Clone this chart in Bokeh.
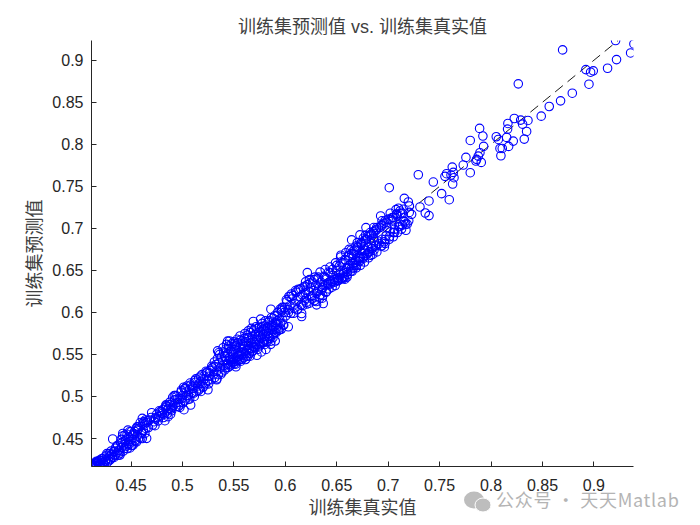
from bokeh.plotting import figure
from bokeh.models import Range1d, FixedTicker, Div
from bokeh.layouts import column
from bokeh.embed import file_html
from bokeh.resources import INLINE

x_a = [.4125,.4130,.4140,.4150,.4158,.4168,.4175,.4185,.4192,.4200,.4210,.4218,.4225,.4235,.4245,.4252,.4262,.4270,.4282,.4290,.4300,.4310,.4320,.4332,.4345,.4350,.4362,.4370,.4380,.4392,.4400,.4410,.4418,.4428,.4435,.4445,.4455,.4462,.4470,.4478,.4490,.4500,.4510,.4520,.4528,.4540,.4550,.4560,.4570,.4580,.4590,.4600,.4610,.4620,.4630,.4640]
y_a = [.4190,.4170,.4205,.4180,.4215,.4175,.4225,.4185,.4240,.4195,.4235,.4178,.4260,.4205,.4280,.4230,.4300,.4215,.4265,.4320,.4250,.4310,.4275,.4345,.4300,.4385,.4330,.4420,.4360,.4320,.4450,.4395,.4530,.4425,.4380,.4470,.4410,.4550,.4440,.4520,.4465,.4580,.4495,.4420,.4560,.4480,.4620,.4530,.4640,.4510,.4690,.4575,.4740,.4600,.4670,.4720]
x_b = [.4735,.4750,.4765,.4775,.4790,.4800,.4810,.4825,.4835,.4845,.4855,.4868,.4880,.4890,.4905,.4915,.4925,.4935,.4945,.4955,.4968,.4980,.4990,.5000,.5012,.5025,.5035,.5045,.5058,.5068,.5080,.5090,.5102,.5115,.5125,.5135,.5148,.5158,.5170,.5180,.5190,.5205,.5215,.5225,.5235,.5245,.5258,.5268,.5280,.5290]
y_b = [.4745,.4790,.4710,.4830,.4770,.4815,.4845,.4790,.4865,.4880,.4800,.4860,.4905,.4850,.4990,.4895,.4960,.4880,.5005,.4930,.4970,.4900,.5075,.4980,.5110,.4950,.5050,.5125,.5010,.5085,.5135,.5040,.5100,.5000,.5170,.5060,.5125,.5220,.5090,.5180,.5260,.5120,.5210,.5150,.5280,.5190,.5240,.5310,.5200,.5340]
x_c = [.5300,.5308,.5315,.5325,.5332,.5340,.5348,.5355,.5362,.5370,.5378,.5385,.5392,.5400,.5405,.5412,.5418,.5425,.5430,.5438,.5445,.5450,.5455,.5462,.5468,.5475,.5480,.5486,.5492,.5498,.5503,.5510,.5515,.5522,.5528,.5535,.5540,.5546,.5552,.5558,.5563,.5570,.5575,.5582,.5588,.5595,.5600,.5606,.5612,.5618,.5624,.5630,.5636,.5642,.5648,.5655,.5660,.5668,.5674,.5680,.5686,.5692,.5700,.5706,.5712,.5720,.5726,.5734,.5740,.5748,.5755,.5762,.5770,.5778,.5785,.5792,.5800,.5808,.5815,.5822,.5830,.5838,.5845,.5852,.5860,.5868,.5875,.5882,.5890,.5898,.5905,.5912,.5920,.5928,.5936,.5945,.5955,.5965,.5975,.5985]
y_c = [.5260,.5355,.5225,.5380,.5300,.5450,.5260,.5400,.5500,.5340,.5470,.5290,.5420,.5530,.5370,.5480,.5340,.5570,.5430,.5510,.5380,.5600,.5460,.5360,.5540,.5410,.5625,.5500,.5440,.5650,.5390,.5560,.5470,.5610,.5420,.5520,.5640,.5480,.5580,.5440,.5670,.5530,.5490,.5620,.5570,.5460,.5690,.5600,.5510,.5650,.5550,.5730,.5480,.5610,.5700,.5570,.5760,.5640,.5530,.5680,.5600,.5790,.5650,.5580,.5740,.5680,.5810,.5620,.5720,.5600,.5770,.5690,.5830,.5730,.5650,.5790,.5710,.5850,.5770,.5680,.5820,.5750,.5900,.5800,.5720,.5850,.5780,.5930,.5830,.5760,.5880,.5810,.5960,.5860,.5790,.5920,.5870,.6020,.5910,.5850]
x_d = [.5995,.6005,.6015,.6025,.6035,.6045,.6055,.6065,.6075,.6085,.6095,.6105,.6115,.6125,.6135,.6145,.6155,.6165,.6175,.6185,.6195,.6205,.6215,.6225,.6235,.6245,.6255,.6265,.6275,.6285,.6295,.6305,.6315,.6325,.6335,.6345,.6355,.6365,.6375,.6385,.6395,.6405,.6415,.6425,.6435,.6445,.6455,.6465,.6475,.6485,.6495,.6505,.6515,.6525,.6535,.6545,.6555,.6565,.6575,.6585,.6595,.6605,.6615,.6625,.6635,.6645,.6655,.6665,.6675,.6685,.6695,.6705,.6715,.6725,.6735,.6745,.6755,.6765,.6775,.6785,.6795,.6805,.6815,.6825,.6835,.6845,.6855,.6865,.6875,.6885]
y_d = [.6060,.5960,.6130,.6030,.6190,.6080,.5990,.6160,.6200,.6050,.6100,.6240,.6030,.6150,.6270,.6190,.6090,.6210,.6300,.6140,.6230,.6170,.6330,.6250,.6110,.6290,.6190,.6360,.6260,.6140,.6320,.6230,.6400,.6290,.6170,.6360,.6270,.6200,.6430,.6320,.6240,.6400,.6350,.6280,.6470,.6370,.6300,.6440,.6390,.6320,.6500,.6410,.6380,.6550,.6450,.6400,.6590,.6480,.6420,.6620,.6520,.6450,.6670,.6560,.6490,.6700,.6580,.6530,.6740,.6620,.6560,.6780,.6660,.6610,.6820,.6700,.6640,.6850,.6740,.6680,.6900,.6780,.6720,.6950,.6820,.6760,.6960,.6850,.6790,.6980]
x_e = [.4322,.4701,.4652,.4490,.4393,.4830,.4733,.5080,.5015,.5248,.5342,.5439,.5333,.5520,.5802,.5860,.5689,.5760,.5860,.6029,.6159,.6159,.6214,.6197,.6304,.6359,.6369,.6580,.6505,.6045,.6126,.5964]
y_e = [.4494,.4807,.4502,.4388,.4304,.4712,.4653,.4898,.4843,.5080,.5543,.5658,.5199,.5353,.5619,.5658,.5892,.5920,.6038,.5829,.5951,.5987,.6474,.6363,.6090,.6169,.6106,.6395,.6375,.6189,.6276,.6038]
x_f = [.9211,.9389,.9357,.9220,.8696,.8922,.8968,.8994,.9133,.8952,.8265,.8790,.8676,.8566,.8488,.8359,.8288,.8307,.8226,.8164,.8161,.8346,.8323,.8216,.8152,.8171,.8109,.8087,.8096,.8051,.8071,.7889,.7921,.7798,.7928,.7892,.7876,.7853,.7860,.7905,.7756,.7730,.7623,.7798,.7633,.7611,.7568,.7552,.7640,.7627,.7293,.7439,.7011,.7520,.7594,.7397,.7309,.7361,.7397,.7157,.7196,.7206,.7228,.7173,.7076,.7115,.7147,.6927,.6969,.7018,.7050,.7082,.6937,.6888,.6784,.6872,.6985,.7050,.7115,.7147,.6645,.6726,.6759,.6856,.6830,.6963,.6937,.6969,.6759,.6694,.6661,.6726,.6678]
y_f = [.9235,.9194,.9087,.9008,.9123,.8889,.8858,.8874,.8905,.8715,.8719,.8608,.8517,.8450,.8335,.8284,.8288,.8240,.8307,.8248,.8181,.8153,.8062,.8038,.8082,.7975,.7951,.7951,.7864,.8090,.8058,.8189,.8098,.8046,.7975,.7900,.7860,.7801,.7821,.7785,.7844,.7753,.7729,.7662,.7666,.7634,.7650,.7619,.7603,.7528,.7638,.7551,.7484,.7413,.7341,.7326,.7254,.7183,.7152,.7357,.7314,.7266,.7167,.6977,.7223,.7207,.7227,.7148,.7088,.7108,.7128,.7167,.7041,.7009,.7009,.6969,.7009,.6950,.7049,.7088,.6863,.6922,.6883,.6883,.6680,.6779,.6791,.6867,.6752,.6752,.6692,.6653,.6593]
x_g = [.4135,.4165,.4195,.4215,.4240,.4265,.4285,.4305,.4335,.4355,.4375,.4405,.4425,.4440,.4465,.4485,.4505,.4535,.4555,.4575,.4595,.4615,.4635,.4650,.4670,.4695,.4725,.4785,.4815,.4840,.4860,.4875,.4895,.4930,.4960,.4985,.5005,.5030,.5055,.5075,.5110,.5130,.5155,.5175,.5200,.5230,.5255,.5285]
y_g = [.4160,.4230,.4172,.4260,.4190,.4320,.4235,.4350,.4275,.4400,.4300,.4490,.4350,.4540,.4380,.4580,.4415,.4585,.4460,.4620,.4505,.4680,.4560,.4690,.4630,.4750,.4700,.4820,.4750,.4890,.4760,.4930,.4830,.5010,.4880,.5050,.4925,.5100,.4965,.5160,.5040,.5210,.5070,.5240,.5110,.5300,.5150,.5360]
x_h = [.5310,.5335,.5352,.5375,.5395,.5410,.5428,.5442,.5458,.5472,.5490,.5505,.5518,.5532,.5548,.5560,.5578,.5592,.5608,.5622,.5640,.5652,.5670,.5684,.5702,.5716,.5730,.5745,.5760,.5775,.5790,.5806,.5820,.5835,.5850,.5865,.5880,.5895,.5910,.5925,.5940,.5950,.5960,.5970,.5980,.5990]
y_h = [.5410,.5210,.5520,.5265,.5580,.5315,.5620,.5345,.5660,.5375,.5410,.5630,.5385,.5680,.5430,.5720,.5445,.5600,.5750,.5480,.5780,.5510,.5810,.5540,.5590,.5830,.5560,.5820,.5615,.5870,.5640,.5900,.5650,.5880,.5690,.5940,.5700,.5960,.5760,.6000,.5790,.6040,.5800,.6060,.5850,.6000]
x_i = [.6010,.6030,.6060,.6080,.6100,.6120,.6150,.6170,.6190,.6210,.6240,.6260,.6280,.6300,.6320,.6340,.6360,.6380,.6400,.6420,.6440,.6460,.6480,.6500,.6520,.6540,.6560,.6580,.6600,.6620,.6640,.6660,.6680,.6700,.6720,.6740,.6760,.6780,.6800,.6820,.6840,.6860,.6880,.6900,.6920,.6940,.6960,.6980,.7000,.7020,.7040,.7060,.7080,.7100,.7120,.7140]
y_i = [.6150,.6000,.6220,.5990,.6260,.6040,.6280,.6080,.6310,.6100,.6350,.6160,.6390,.6130,.6420,.6210,.6300,.6420,.6250,.6480,.6340,.6510,.6360,.6560,.6390,.6600,.6420,.6630,.6480,.6680,.6520,.6730,.6560,.6770,.6640,.6810,.6660,.6860,.6700,.6910,.6760,.6940,.6800,.6850,.7010,.6870,.7060,.6910,.7110,.6960,.7130,.6990,.7170,.7020,.7180,.7040]
x_j = [.5420,.5435,.5452,.5466,.5482,.5496,.5512,.5525,.5538,.5554,.5568,.5585,.5598,.5614,.5628,.5645,.5658,.5676,.5690,.5708,.5724,.5738,.5752,.5768,.5782,.5796,.5812,.5826,.5842,.5858,.5872,.5886,.5902,.5918,.5932]
y_j = [.5520,.5390,.5570,.5440,.5530,.5410,.5600,.5460,.5640,.5500,.5420,.5660,.5530,.5440,.5700,.5560,.5480,.5720,.5590,.5620,.5490,.5760,.5640,.5530,.5800,.5670,.5560,.5830,.5710,.5620,.5830,.5740,.5660,.5900,.5810]
x_k = [.6205,.6235,.6262,.6288,.6312,.6338,.6362,.6388,.6412,.6435,.6462,.6488,.6512,.6538,.6562,.6588,.6612,.6638,.6662,.6688,.6712,.6738,.6762,.6788,.6812,.6838,.6862,.6888,.6912,.6938,.6962,.6988,.7012,.7038,.7062,.7088,.7112,.7138,.7162,.7185,.7205]
y_k = [.6120,.6390,.6200,.6420,.6250,.6480,.6290,.6510,.6330,.6540,.6370,.6590,.6410,.6660,.6460,.6710,.6530,.6740,.6560,.6790,.6610,.6830,.6660,.6870,.6720,.6930,.6740,.6990,.6820,.7030,.6840,.7070,.6900,.7100,.6950,.7150,.7020,.7180,.7080,.7050,.7190]
x_l = [.4118,.4122,.4128,.4145,.4155,.4178,.4205,.4228,.4255,.4295,.4340,.4385,.4415,.4450,.4480,.4515,.4545,.4565,.4605,.4625,.4645,.4680,.4710,.4740,.4770,.4805,.4850,.4900,.4950,.5000,.5040,.5100,.5160,.5210,.5265]
y_l = [.4178,.4195,.4172,.4200,.4175,.4210,.4200,.4215,.4250,.4290,.4350,.4340,.4450,.4490,.4430,.4540,.4470,.4600,.4560,.4700,.4620,.4720,.4660,.4730,.4760,.4800,.4840,.4870,.4970,.5010,.5010,.5120,.5150,.5240,.5280]
x_m = [.4420,.4470,.4510,.4560,.4610,.4660,.4840,.4885,.4920,.4975,.5020,.5070,.5120,.5180,.5240,.6560,.6600,.6650,.6690,.6730,.6770,.6810,.6850,.6890,.6930,.6970,.7010,.7050,.7090,.7130,.7170,.7200,.6540,.6620,.6700,.6780,.6860,.6940,.7020,.7100]
y_m = [.4560,.4600,.4420,.4640,.4500,.4710,.4900,.4790,.5010,.4870,.5090,.4970,.5190,.5060,.5290,.6400,.6420,.6490,.6530,.6560,.6600,.6650,.6690,.6720,.6790,.6820,.6870,.6900,.6950,.6990,.7050,.7090,.6680,.6750,.6830,.6920,.7010,.7090,.7180,.7240]

true_vals = x_a + x_b + x_c + x_d + x_e + x_f + x_g + x_h + x_i + x_j + x_k + x_l + x_m
pred_vals = y_a + y_b + y_c + y_d + y_e + y_f + y_g + y_h + y_i + y_j + y_k + y_l + y_m
fit_ends = [.4167, .9235]
x_ticks = [.45, .5, .55, .6, .65, .7, .75, .8, .85, .9]
x_labels = {.45: "0.45", .5: "0.5", .55: "0.55", .6: "0.6", .65: "0.65", .7: "0.7", .75: "0.75", .8: "0.8", .85: "0.85", .9: "0.9"}

FONT = "Liberation Sans, Noto Sans CJK SC"
INK = "#262626"

p = figure(width=690, height=525, output_backend="svg", toolbar_location=None,
           x_range=Range1d(.4116, .9385), y_range=Range1d(.4167, .9235),
           min_border_left=91, min_border_right=57, min_border_top=40, min_border_bottom=59,
           title="训练集预测值 vs. 训练集真实值",
           x_axis_label="训练集真实值", y_axis_label="训练集预测值")
p.grid.visible = False
p.outline_line_color = None
p.title.align = "center"
p.title.text_font = FONT
p.title.text_font_size = "18px"
p.title.text_font_style = "normal"
p.title.text_color = "#404040"
p.title.standoff = 7

for ax in (p.xaxis[0], p.yaxis[0]):
    ax.ticker = FixedTicker(ticks=x_ticks)
    ax.major_label_overrides = x_labels
    ax.minor_tick_line_color = None
    ax.major_tick_in = 5
    ax.major_tick_out = 0
    ax.axis_line_color = INK
    ax.major_tick_line_color = INK
    ax.major_label_text_font = "Liberation Sans"
    ax.major_label_text_font_size = "16px"
    ax.major_label_text_color = INK
    ax.axis_label_text_font = FONT
    ax.axis_label_text_font_size = "18px"
    ax.axis_label_text_font_style = "normal"
    ax.axis_label_text_color = "#404040"
p.xaxis[0].major_label_standoff = 12
p.xaxis[0].axis_label_standoff = 4
p.yaxis[0].major_label_standoff = 8
p.yaxis[0].axis_label_standoff = 4

p.line(fit_ends, fit_ends, line_color="black", line_width=0.9, line_dash="10 6")
p.scatter(true_vals, pred_vals, marker="circle", size=8.5, fill_color=None,
          line_color="#0000ff", line_width=1.1)

mark = ('<svg width="27" height="22" style="vertical-align:middle;margin-right:5px">'
        '<ellipse cx="10" cy="9" rx="10" ry="8.5" fill="#bdbdbd"/>'
        '<ellipse cx="19" cy="14" rx="8" ry="7" fill="#bdbdbd" stroke="white"/></svg>')
watermark = Div(text=mark + '公众号 · 天天Matlab', width=230, height=26,
                margin=(-39, 0, 13, 464),
                styles={"font-family": "Noto Sans CJK SC", "font-size": "18px", "color": "#b4b4b4",
                        "letter-spacing": "0.7px", "white-space": "nowrap", "line-height": "26px"})

open("out.html", "w").write(file_html(column(p, watermark), INLINE))
